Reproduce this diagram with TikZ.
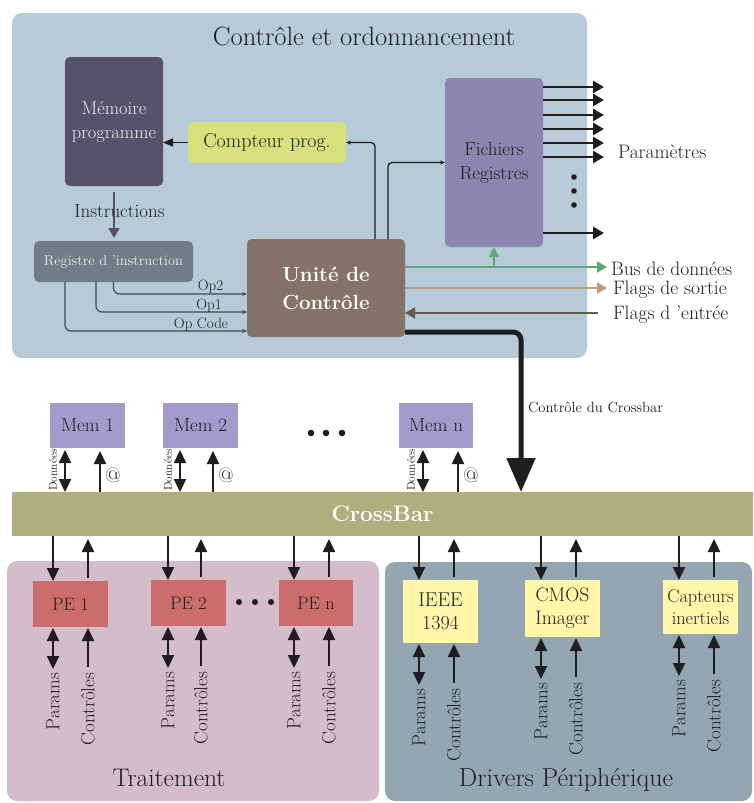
\documentclass[tikz,border=0pt]{standalone}
\usepackage{fontspec}
\usetikzlibrary{arrows.meta,calc}
\definecolor{ink}{HTML}{1E1E1E}
\definecolor{cTop}{HTML}{B6CAD8}
\definecolor{cMem}{HTML}{58516D}
\definecolor{cCpt}{HTML}{D8E07E}
\definecolor{cReg}{HTML}{707C86}
\definecolor{cUC}{HTML}{85736A}
\definecolor{cFR}{HTML}{8D86B1}
\definecolor{cMm}{HTML}{A49BCC}
\definecolor{cCB}{HTML}{B1AD7E}
\definecolor{cTr}{HTML}{D5BCCA}
\definecolor{cDr}{HTML}{93A6B1}
\definecolor{cPE}{HTML}{CB6D6D}
\definecolor{cDev}{HTML}{FFF6AA}
\definecolor{cBus}{HTML}{5BAA75}
\definecolor{cFo}{HTML}{B89E7E}
\definecolor{cFi}{HTML}{5E5D4E}
\definecolor{cOp}{HTML}{3E4A57}
\newcommand{\fsz}[2]{\fontsize{#1}{#2}\selectfont}
\begin{document}
\begin{tikzpicture}[x=1pt,y=-1pt,
  every node/.style={inner sep=0pt,outer sep=0pt,text=ink},
  box/.style 2 args={minimum width=#1pt,minimum height=#2pt,align=center},
  rbox/.style={rounded corners=5pt},
  ar/.style={draw=ink,line width=2.2pt,-{Triangle[length=13pt,width=12pt]}},
  dar/.style={draw=ink,line width=2.2pt,{Triangle[length=13pt,width=12pt]}-{Triangle[length=13pt,width=12pt]}},
  par/.style={draw=ink,line width=2.6pt,-{Triangle[length=11pt,width=12pt]}},
  thn/.style={draw=ink,line width=1.3pt,rounded corners=4pt,-{Stealth[length=5pt,width=4pt]}},
  opl/.style={draw=cOp,line width=1.2pt,rounded corners=6pt,-{Stealth[length=5pt,width=4pt]}},
  vlab/.style={rotate=90,anchor=east,font=\fsz{19}{22}},
  side/.style={anchor=base west,font=\fsz{19.5}{22}},
]
\useasboundingbox (0,0) rectangle (753,803);
\fill[white] (0,0) rectangle (753,803);
% panels
\fill[cTop,rounded corners=10pt] (12,13) rectangle (587,358);
\fill[cTr,rounded corners=10pt] (7,561) rectangle (379,801);
\fill[cDr,rounded corners=10pt] (385,562) rectangle (752,801);

\node[anchor=base,font=\fsz{26.5}{30}] (title) at (364,45) {Contrôle et ordonnancement};

% top panel boxes
\node[box={98}{129},rbox,fill=cMem,text=white!93!black,font=\fsz{18.5}{24}] (mem) at (114,121.5) {Mémoire\\programme};
\node[box={158}{41},rbox,fill=cCpt,font=\fsz{20}{22}] (cpt) at (267,142.5) {Compteur prog.};
\node[box={159}{41},rbox,fill=cReg,text=white!93!black,font=\fsz{14.5}{16}] (reg) at (113.5,261.5) {Registre d ’instruction};
\node[box={158}{98},rbox,fill=cUC,text=white,font=\fsz{20.5}{28}\bfseries] (uc) at (326,288) {Unité de\\Contrôle};
\node[box={98}{169},rbox,fill=cFR,font=\fsz{19}{24}] (fr) at (494,162.5) {Fichiers\\Registres};

% connectors in top panel
\draw[draw=ink,line width=1.3pt,-{Triangle[length=10pt,width=8pt]}] (cpt.west) -- (mem.east |- cpt.west);
\draw[thn] ([xshift=49pt]uc.north) |- (cpt.east);
\draw[thn] ([xshift=62pt]uc.north) |- (fr.west);
\draw[draw=cMem,line width=2pt,-{Triangle[length=10pt,width=11pt]},shorten <=6pt,shorten >=3pt] (mem.south) -- (reg.north -| mem.south);
\node[anchor=base,font=\fsz{19}{22}] (instr) at (119.5,217) {Instructions};

\draw[opl] (reg.south) |- ([yshift=-6pt]uc.west);
\draw[opl] ([xshift=-17.5pt]reg.south) |- ([yshift=-24pt]uc.west);
\draw[opl] ([xshift=-48.5pt]reg.south) |- ([yshift=-43pt]uc.west);
\node[anchor=base,font=\fsz{15}{17}] (op2) at (210.5,290) {Op2};
\node[anchor=base,font=\fsz{15}{17}] (op1) at (209,309) {Op1};
\node[anchor=base,font=\fsz{15}{17}] (opc) at (201,328) {Op Code};

% parameter outputs
\foreach \y in {87,100,115,129,143,157,233}{
  \coordinate (py) at (604,\y);
  \draw[par] (fr.east |- py) -- (py);
}
\foreach \y in {177,191,205} \fill[ink] (574,\y) circle[radius=2.8pt];
\node[side] (param) at (618,158) {Paramètres};

% buses
\coordinate (busend) at (607,267);
\coordinate (foend) at (607,288);
\coordinate (fistart) at (598,313);
\draw[draw=cBus,line width=2pt,-{Triangle[length=10pt,width=11pt]}] (uc.east |- busend) -- (busend);
\draw[draw=cBus,line width=2pt,-{Triangle[length=10pt,width=10pt]}] (fr.south |- busend) -- (fr.south);
\draw[draw=cFo,line width=2pt,-{Triangle[length=10pt,width=11pt]}] (uc.east |- foend) -- (foend);
\draw[draw=cFi,line width=2pt,-{Triangle[length=10pt,width=11pt]}] (fistart) -- (uc.east |- fistart);
\node[side] (lbus) at (611,275) {Bus de données};
\node[side] (lfo) at (613,294) {Flags de sortie};
\node[side] (lfi) at (613,319) {Flags d ’entrée};

% crossbar
\node[box={741}{44},fill=cCB,text=white,font=\fsz{22.5}{26}\bfseries] (cb) at (382.5,514) {CrossBar};
\coordinate (cbx) at (521,0);
\draw[draw=ink,line width=5pt,rounded corners=8pt,-{Triangle[length=34pt,width=28pt]}] ([yshift=5pt]uc.south east) -| (cb.north -| cbx);
\node[anchor=west,font=\fsz{14.7}{17}] (lcb) at (528,407) {Contrôle du Crossbar};

% memories
\node[box={75}{45},fill=cMm,font=\fsz{19}{22}] (m1) at (87.5,425.5) {Mem 1};
\node[box={75}{45},fill=cMm,font=\fsz{19}{22}] (m2) at (200.5,425.5) {Mem 2};
\node[box={74}{45},fill=cMm,font=\fsz{19}{22}] (mn) at (436,425.5) {Mem n};
\foreach \x in {311,326,342} \fill[ink] (\x,433) circle[radius=3.3pt];
\foreach \n/\a/\b in {m1/65/100, m2/180/213, mn/423/458}{
  \coordinate (\n-a) at (\a,0);
  \coordinate (\n-b) at (\b,0);
  \draw[dar,shorten <=2pt] (\n.south -| \n-a) -- (cb.north -| \n-a);
  \draw[ar,shorten >=3pt] (cb.north -| \n-b) -- (\n.south -| \n-b);
  \node[rotate=90,font=\fsz{11.5}{13}] at ($(\n.south -| \n-a)+(-12,22)$) {Données};
  \node[font=\fsz{21}{24}] at ($(\n.south -| \n-b)+(13,27)$) {@};
}

% processing elements and devices
\node[box={75}{46},fill=cPE,font=\fsz{18}{20}] (pe1) at (70.5,604) {PE 1};
\node[box={75}{46},fill=cPE,font=\fsz{18}{20}] (pe2) at (188.5,603) {PE 2};
\node[box={74}{46},fill=cPE,font=\fsz{18}{20}] (pen) at (316,603) {PE n};
\foreach \x in {239,255,271} \fill[ink] (\x,602) circle[radius=3pt];
\node[box={75}{63},fill=cDev,font=\fsz{20}{23}] (ieee) at (440.5,611.5) {IEEE\\1394};
\node[box={75}{57},fill=cDev,font=\fsz{19.5}{23}] (cmos) at (562.5,608.5) {CMOS\\Imager};
\node[box={75}{54},fill=cDev,font=\fsz{18.3}{22}] (capt) at (700.5,607) {Capteurs\\inertiels};
\foreach \n/\a/\b in {pe1/53/88, pe2/168/201, pen/294/329, ieee/419/454, cmos/541/576, capt/679/714}{
  \coordinate (\n-a) at (\a,0);
  \coordinate (\n-b) at (\b,0);
  \draw[ar] (cb.south -| \n-a) -- (\n.north -| \n-a);
  \draw[ar,shorten <=3pt,shorten >=3pt] (\n.north -| \n-b) -- (cb.south -| \n-b);
  \draw[dar,shorten <=1pt] (\n.south -| \n-a) -- ++(0,42) coordinate (\n-pa);
  \draw[ar,shorten >=1pt] ($(\n.south -| \n-b)+(0,40)$) coordinate (\n-pb) -- (\n.south -| \n-b);
  \node[vlab] at ($(\n-pa)+(0,4)$) {Params};
  \node[vlab] at ($(\n-pb)+(0,6)$) {Contrôles};
}

\node[anchor=base,font=\fsz{25.5}{28}] (ltr) at (169,786) {Traitement};
\node[anchor=base,font=\fsz{26}{29}] (ldr) at (566,786) {Drivers Périphérique};
\end{tikzpicture}
\end{document}
